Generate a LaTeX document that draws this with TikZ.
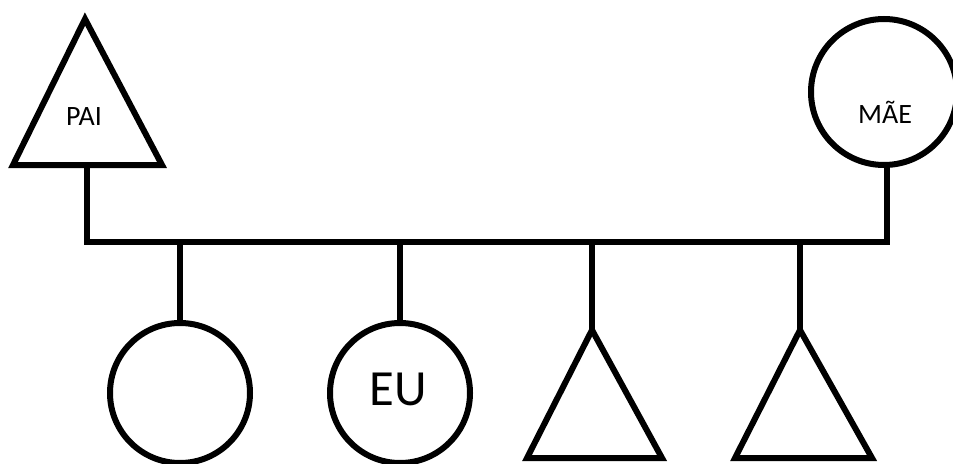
\documentclass[tikz,border=0pt]{standalone}
\usepackage{fontspec}
\setmainfont{Carlito}
\begin{document}
\begin{tikzpicture}[x=0.75pt,y=-0.75pt,
  line width=4.5pt, line join=miter,
  female/.style={circle, draw=black, inner sep=0pt, minimum size=#1},
  male/.style={draw=black},
  smalltag/.style={inner sep=0pt, anchor=base, font=\fontsize{21}{21}\selectfont},
  bigtag/.style={inner sep=0pt, anchor=base, font=\fontsize{38}{38}\selectfont},
  link/.style={draw=black, line cap=butt}]
\clip (0,0) rectangle (953,464);
\fill[white] (0,0) rectangle (953,464);

% father (triangle, top left)
\coordinate (paiTop) at (85,19);
\coordinate (paiL) at (13,165);
\coordinate (paiR) at (162,165);
\draw[male] (paiTop) -- (paiL) -- (paiR) -- cycle;
\coordinate (paiBase) at (87,165);
\node[smalltag] (pai) at (84,125) {PAI};

% mother (circle, top right)
\node[female=109.5pt] (mae) at (884,92) {};
\node[smalltag] (maeTxt) at (885,123) {MÃE};

% marriage line
\coordinate (barL) at (87,242);
\coordinate (barR) at (887,242);
\draw[link] (paiBase) -- (barL) -- (barR) -- (mae.south -| barR);

% children
\node[female=105pt] (sis) at (180,393) {};
\node[female=105pt] (eu) at (400,393) {};
\node[bigtag] (euTxt) at (398,405) {EU};

\coordinate (b1Top) at (592,330);
\coordinate (b1L) at (527,458);
\coordinate (b1R) at (662,458);
\draw[male] (b1Top) -- (b1L) -- (b1R) -- cycle;

\coordinate (b2Top) at (800,330);
\coordinate (b2L) at (735,458);
\coordinate (b2R) at (872,458);
\draw[male] (b2Top) -- (b2L) -- (b2R) -- cycle;

% descent lines from the marriage line
\draw[link] (sis.north |- barL) -- (sis.north);
\draw[link] (eu.north |- barL) -- (eu.north);
\draw[link] (b1Top |- barL) -- (b1Top);
\draw[link] (b2Top |- barL) -- (b2Top);
\end{tikzpicture}
\end{document}
